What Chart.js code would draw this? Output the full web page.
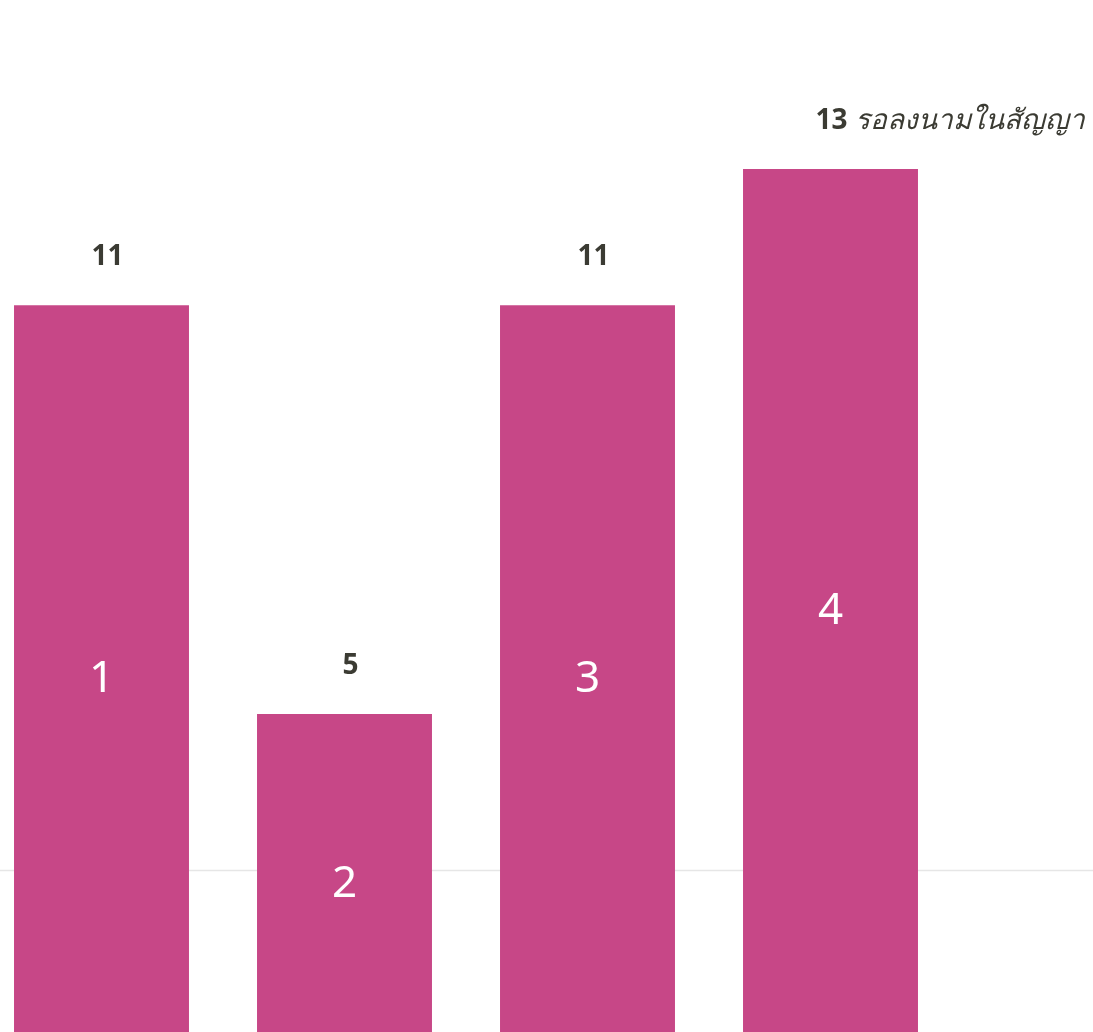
<!DOCTYPE html>
<html>
<head>
<meta charset="utf-8">
<script src="https://cdn.jsdelivr.net/npm/chart.js@4"></script>
<style>
  html, body { margin: 0; padding: 0; background: #fff; overflow: hidden; }
  #wrap { position: absolute; left: -20px; top: 0; width: 1113px; height: 1032px; }
</style>
</head>
<body>
<div id="wrap"><canvas id="chart"></canvas></div>
<script>
const categories = ['1', '2', '3', '4'];
const values = [11, 5, 11, 13];
const notes = ['', '', '', 'รอลงนามในสัญญา'];
const gridValues = [2.7];

const barColor = '#C74787';

// faint guide line across the whole page
const gridPlugin = {
  id: 'fullGrid',
  beforeDatasetsDraw(chart) {
    const ctx = chart.ctx;
    const yScale = chart.scales.y;
    ctx.save();
    ctx.strokeStyle = '#e6e6e6';
    ctx.lineWidth = 1.5;
    gridValues.forEach(v => {
      const y = yScale.getPixelForValue(v);
      ctx.beginPath();
      ctx.moveTo(0, y);
      ctx.lineTo(chart.width, y);
      ctx.stroke();
    });
    ctx.restore();
  }
};

// value above each bar, category number inside the bar
const labelPlugin = {
  id: 'barLabels',
  afterDatasetsDraw(chart) {
    const ctx = chart.ctx;
    const meta = chart.getDatasetMeta(0);
    const yScale = chart.scales.y;
    const zeroY = yScale.getPixelForValue(0);
    ctx.save();
    meta.data.forEach((bar, i) => {
      const x = bar.x;
      const top = bar.y;
      ctx.fillStyle = '#ffffff';
      ctx.font = '44px "Noto Sans", "DejaVu Sans", sans-serif';
      ctx.textAlign = 'center';
      ctx.textBaseline = 'middle';
      ctx.fillText(categories[i], x, (top + zeroY) / 2);

      ctx.fillStyle = '#3b3b33';
      ctx.font = 'bold 28px "Noto Sans", "DejaVu Sans", sans-serif';
      if (notes[i]) {
        ctx.textAlign = 'left';
        const txt = String(values[i]) + ' ';
        const x0 = x - 15;
        ctx.fillText(txt, x0, top - 48);
        const w = ctx.measureText(txt).width;
        ctx.font = 'italic 28px "Noto Sans", "DejaVu Sans", sans-serif';
        ctx.fillText(notes[i], x0 + w, top - 48);
      } else {
        ctx.textAlign = 'center';
        ctx.fillText(String(values[i]), x + 6, top - 48);
      }
    });
    ctx.restore();
  }
};

new Chart(document.getElementById('chart'), {
  type: 'bar',
  data: {
    labels: categories,
    datasets: [{
      data: values,
      backgroundColor: barColor,
      borderWidth: 0,
      barPercentage: 0.72,
      categoryPercentage: 1.0
    }]
  },
  options: {
    responsive: true,
    maintainAspectRatio: false,
    animation: false,
    layout: { padding: { left: 0, right: 141, top: 0, bottom: 0 } },
    plugins: { legend: { display: false }, tooltip: { enabled: false } },
    scales: {
      x: { display: false },
      y: { min: 0.33, max: 15.48, display: false }
    }
  },
  plugins: [gridPlugin, labelPlugin]
});
</script>
</body>
</html>
